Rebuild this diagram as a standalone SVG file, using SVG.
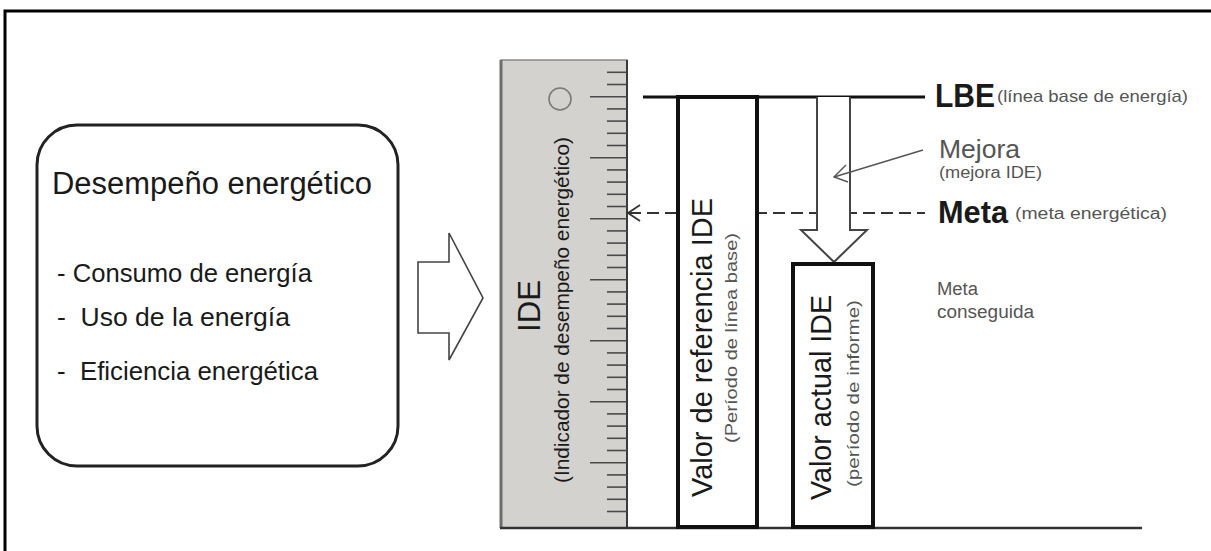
<svg xmlns="http://www.w3.org/2000/svg" width="1211" height="551" viewBox="0 0 1211 551">
<style>
  text { font-family: "Liberation Sans", Arial, sans-serif; }
  .dark { fill: #1a1a1a; }
  .grey { fill: #555555; }
  .tick { stroke: #4a4a4a; stroke-width: 1.6; }
  .bar { fill: #ffffff; stroke: #111111; stroke-width: 4; }
</style>
<rect x="0" y="0" width="1211" height="551" fill="#ffffff"/>
<path id="frame" d="M5,551 V11 H1211" fill="none" stroke="#000" stroke-width="3"/>

<g id="box-desempeno">
  <rect x="37" y="125" width="361" height="341" rx="40" ry="40" fill="#fff" stroke="#222" stroke-width="3"/>
  <text class="dark" x="52" y="194" font-size="31" textLength="320" lengthAdjust="spacingAndGlyphs">Desempeño energético</text>
  <text class="dark" x="57" y="282" font-size="25" textLength="255" lengthAdjust="spacingAndGlyphs">- Consumo de energía</text>
  <text class="dark" x="57" y="326" font-size="25" textLength="233" lengthAdjust="spacingAndGlyphs" xml:space="preserve">-  Uso de la energía</text>
  <text class="dark" x="57" y="380" font-size="25" textLength="261" lengthAdjust="spacingAndGlyphs" xml:space="preserve">-  Eficiencia energética</text>
</g>

<g id="arrow-right">
  <polygon points="418,262 449,262 449,233 483,298 449,360 449,333 418,333" fill="#fff" stroke="#444" stroke-width="1.6"/>
</g>

<g id="ruler">
  <rect x="501" y="60" width="126" height="468" fill="#d4d2cf" stroke="#8a8a8a" stroke-width="1.5"/>
  <line x1="501" y1="60" x2="501" y2="528" stroke="#6e6e6e" stroke-width="3"/>
  <line x1="627" y1="60" x2="627" y2="528" stroke="#3a3a3a" stroke-width="2"/>
  <circle cx="560" cy="99" r="11" fill="none" stroke="#7a7a7a" stroke-width="1.6"/>
  <g id="ticks">
    <line class="tick" x1="607" y1="72.3" x2="627" y2="72.3"/>
    <line class="tick" x1="607" y1="84.5" x2="627" y2="84.5"/>
    <line class="tick" x1="590" y1="96.7" x2="627" y2="96.7"/>
    <line class="tick" x1="607" y1="108.9" x2="627" y2="108.9"/>
    <line class="tick" x1="607" y1="121.1" x2="627" y2="121.1"/>
    <line class="tick" x1="607" y1="133.3" x2="627" y2="133.3"/>
    <line class="tick" x1="607" y1="145.5" x2="627" y2="145.5"/>
    <line class="tick" x1="590" y1="157.7" x2="627" y2="157.7"/>
    <line class="tick" x1="607" y1="169.9" x2="627" y2="169.9"/>
    <line class="tick" x1="607" y1="182.1" x2="627" y2="182.1"/>
    <line class="tick" x1="607" y1="194.3" x2="627" y2="194.3"/>
    <line class="tick" x1="607" y1="206.5" x2="627" y2="206.5"/>
    <line class="tick" x1="590" y1="218.7" x2="627" y2="218.7"/>
    <line class="tick" x1="607" y1="230.9" x2="627" y2="230.9"/>
    <line class="tick" x1="607" y1="243.1" x2="627" y2="243.1"/>
    <line class="tick" x1="607" y1="255.3" x2="627" y2="255.3"/>
    <line class="tick" x1="607" y1="267.5" x2="627" y2="267.5"/>
    <line class="tick" x1="590" y1="279.7" x2="627" y2="279.7"/>
    <line class="tick" x1="607" y1="291.9" x2="627" y2="291.9"/>
    <line class="tick" x1="607" y1="304.1" x2="627" y2="304.1"/>
    <line class="tick" x1="607" y1="316.3" x2="627" y2="316.3"/>
    <line class="tick" x1="607" y1="328.5" x2="627" y2="328.5"/>
    <line class="tick" x1="590" y1="340.7" x2="627" y2="340.7"/>
    <line class="tick" x1="607" y1="352.9" x2="627" y2="352.9"/>
    <line class="tick" x1="607" y1="365.1" x2="627" y2="365.1"/>
    <line class="tick" x1="607" y1="377.3" x2="627" y2="377.3"/>
    <line class="tick" x1="607" y1="389.5" x2="627" y2="389.5"/>
    <line class="tick" x1="590" y1="401.7" x2="627" y2="401.7"/>
    <line class="tick" x1="607" y1="413.9" x2="627" y2="413.9"/>
    <line class="tick" x1="607" y1="426.1" x2="627" y2="426.1"/>
    <line class="tick" x1="607" y1="438.3" x2="627" y2="438.3"/>
    <line class="tick" x1="607" y1="450.5" x2="627" y2="450.5"/>
    <line class="tick" x1="590" y1="462.7" x2="627" y2="462.7"/>
    <line class="tick" x1="607" y1="474.9" x2="627" y2="474.9"/>
    <line class="tick" x1="607" y1="487.1" x2="627" y2="487.1"/>
    <line class="tick" x1="607" y1="499.3" x2="627" y2="499.3"/>
    <line class="tick" x1="607" y1="511.5" x2="627" y2="511.5"/>
  </g>
  <text class="dark" transform="translate(540,306) rotate(-90)" text-anchor="middle" font-size="32" textLength="52" lengthAdjust="spacingAndGlyphs">IDE</text>
  <text class="dark" transform="translate(569,310) rotate(-90)" text-anchor="middle" font-size="21" textLength="346" lengthAdjust="spacingAndGlyphs">(Indicador de desempeño energético)</text>
</g>

<g id="connectors">
  <line x1="500" y1="528" x2="1142" y2="528" stroke="#333" stroke-width="2.5"/>
  <line x1="643" y1="97" x2="925" y2="97" stroke="#111" stroke-width="3"/>
  <line x1="629" y1="213" x2="925" y2="213" stroke="#333" stroke-width="2" stroke-dasharray="12 6"/>
  <polyline points="640,205 628,213 640,221" fill="none" stroke="#333" stroke-width="1.8"/>
</g>

<g id="bar-referencia">
  <rect class="bar" x="678" y="97" width="79" height="430"/>
  <text class="dark" transform="translate(712,347.5) rotate(-90)" text-anchor="middle" font-size="30" textLength="299" lengthAdjust="spacingAndGlyphs">Valor de referencia IDE</text>
  <text class="grey" transform="translate(737,338) rotate(-90)" text-anchor="middle" font-size="17" textLength="210" lengthAdjust="spacingAndGlyphs">(Período de línea base)</text>
</g>

<g id="arrow-mejora">
  <path d="M817,97 V230 H801 L834,262 L867,230 H850 V97" fill="#fff" stroke="#444" stroke-width="2"/>
</g>

<g id="pointer-mejora">
  <line x1="834" y1="177" x2="923" y2="150" stroke="#555" stroke-width="1.4"/>
  <polyline points="846,165 834,177 848,182" fill="none" stroke="#555" stroke-width="1.4"/>
</g>

<g id="bar-actual">
  <rect class="bar" x="793" y="264" width="80" height="263"/>
  <text class="dark" transform="translate(831,397.5) rotate(-90)" text-anchor="middle" font-size="30" textLength="205" lengthAdjust="spacingAndGlyphs">Valor actual IDE</text>
  <text class="grey" transform="translate(859,393.5) rotate(-90)" text-anchor="middle" font-size="17" textLength="187" lengthAdjust="spacingAndGlyphs">(período de informe)</text>
</g>

<g id="label-lbe">
  <text class="dark" x="935" y="107" font-size="33" font-weight="bold" textLength="60" lengthAdjust="spacingAndGlyphs">LBE</text>
  <text class="grey" x="997" y="102" font-size="17" textLength="191" lengthAdjust="spacingAndGlyphs">(línea base de energía)</text>
</g>

<g id="label-mejora">
  <text class="grey" x="939" y="158" font-size="26" textLength="81" lengthAdjust="spacingAndGlyphs">Mejora</text>
  <text class="grey" x="939" y="178" font-size="16" textLength="103" lengthAdjust="spacingAndGlyphs">(mejora IDE)</text>
</g>

<g id="label-meta">
  <text class="dark" x="938" y="223" font-size="31" font-weight="bold" textLength="70" lengthAdjust="spacingAndGlyphs">Meta</text>
  <text class="grey" x="1015" y="219" font-size="16" textLength="152" lengthAdjust="spacingAndGlyphs">(meta energética)</text>
</g>

<g id="label-conseguida">
  <text class="grey" x="937" y="295" font-size="18" textLength="41" lengthAdjust="spacingAndGlyphs">Meta</text>
  <text class="grey" x="937" y="318" font-size="18" textLength="97" lengthAdjust="spacingAndGlyphs">conseguida</text>
</g>
</svg>
